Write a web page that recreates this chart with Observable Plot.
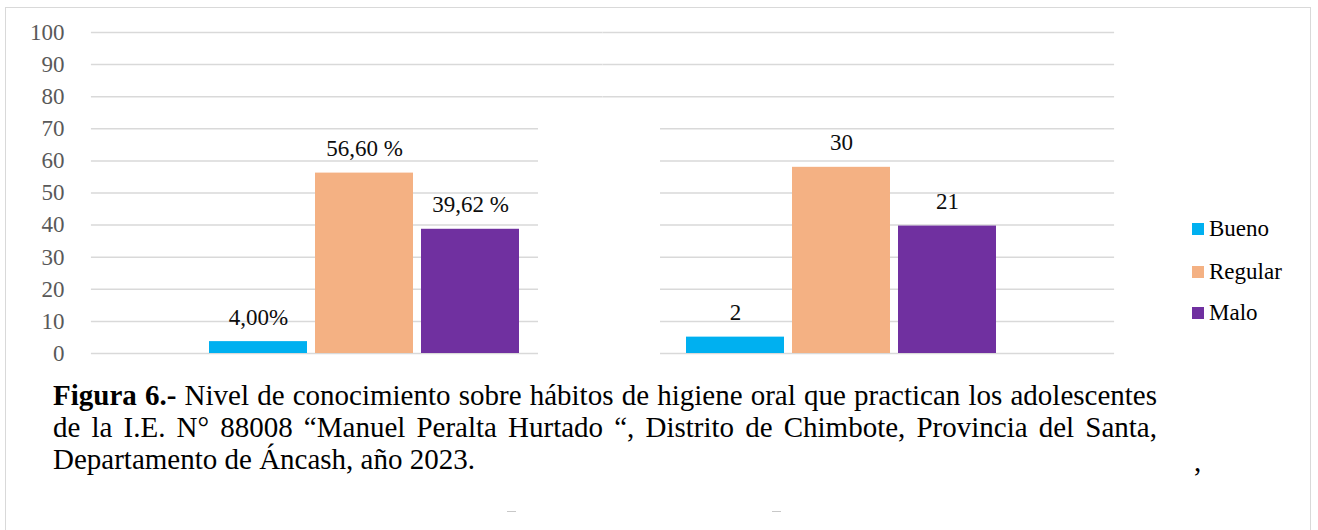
<!DOCTYPE html>
<html><head><meta charset="utf-8">
<script src="https://cdn.jsdelivr.net/npm/d3@7"></script>
<script src="https://cdn.jsdelivr.net/npm/@observablehq/plot@0.6"></script>
<style>
body{margin:0;background:#fff;width:1318px;height:530px;overflow:hidden;position:relative;font-family:"Liberation Serif","Times New Roman",serif;}
#frame{position:absolute;left:5px;top:7px;width:1304px;height:600px;border:1.5px solid #d9d9d9;}
#chart{position:absolute;left:0;top:0;}
#chart svg, #chart svg text{font-family:"Liberation Serif","Times New Roman",serif !important;}
.leg{position:absolute;font-size:23px;line-height:23px;color:#000;white-space:nowrap;}
.sw{position:absolute;width:12px;height:12px;}
.cap{position:absolute;left:53px;width:1104px;font-size:29px;line-height:32px;color:#000;}
.just{text-align:justify;text-align-last:justify;}
.dash{position:absolute;top:511px;width:9px;height:1px;background:#c8c8c8;}
</style></head>
<body>
<div id="frame"></div>
<div id="chart"></div>
<div id="legend"></div>
<div class="cap just" style="top:379px"><b>Figura 6.-</b> Nivel de conocimiento sobre hábitos de higiene oral que practican los adolescentes</div>
<div class="cap just" style="top:411px">de la I.E. N° 88008 “Manuel Peralta Hurtado “, Distrito de Chimbote, Provincia del Santa,</div>
<div class="cap" style="top:443px">Departamento de Áncash, año 2023.</div>
<div class="cap" style="top:445px;left:1194px;width:auto">,</div>
<div class="dash" style="left:507px"></div>
<div class="dash" style="left:772px"></div>
<script>
// ---- data ----
const groups = ["Porcentaje", "Frecuencia"];
const series = ["Bueno", "Regular", "Malo"];
const colors = ["#00b0f0", "#f4b183", "#7030a0"];
const pctValues = [3.7, 56.2, 38.7];
const pctLabels = ["4,00%", "56,60 %", "39,62 %"];
const freqValues = [5.1, 58.0, 39.7];
const freqLabels = ["2", "30", "21"];
const yTicks = [0, 10, 20, 30, 40, 50, 60, 70, 80, 90, 100];

const rows = [];
series.forEach((s, i) => rows.push({group: groups[0], serie: s, value: pctValues[i], label: pctLabels[i]}));
series.forEach((s, i) => rows.push({group: groups[1], serie: s, value: freqValues[i], label: freqLabels[i]}));

// ---- layout ----
const W = 1318, H = 370, ML = 90, MR = 203, MT = 32, MB = 17;
const PI = 0.345, PO = 0.245;
const step = (W - ML - MR) / (2 - PI + 2 * PO);
const outer = step * PO, half = step * PI / 2;

const gridTop = yTicks.filter(t => t >= 80);
const gridLow = yTicks.filter(t => t < 80);
const gridStyle = {stroke: "#d9d9d9", strokeWidth: 1.5};
const g = (arr, grp) => arr.map(t => ({t, group: grp}));

const chart = Plot.plot({
  width: W, height: H,
  marginLeft: ML, marginRight: MR, marginTop: MT, marginBottom: MB,
  style: "font-family: 'Liberation Serif', 'Times New Roman', serif; font-size: 23px; background: transparent; overflow: visible;",
  fx: {domain: groups, paddingInner: PI, paddingOuter: PO, axis: null},
  x: {domain: series, paddingInner: 0.08, paddingOuter: 0, axis: null},
  y: {domain: [0, 100], axis: null},
  color: {domain: series, range: colors},
  marks: [
    Plot.ruleY(g(gridTop, groups[0]), {y: "t", fx: "group", ...gridStyle, insetLeft: -outer, insetRight: -half}),
    Plot.ruleY(g(gridTop, groups[1]), {y: "t", fx: "group", ...gridStyle, insetLeft: -half, insetRight: -outer}),
    Plot.ruleY(g(gridLow, groups[0]), {y: "t", fx: "group", ...gridStyle, insetLeft: -outer, insetRight: -18}),
    Plot.ruleY(g(gridLow, groups[1]), {y: "t", fx: "group", ...gridStyle, insetLeft: -25, insetRight: -outer}),
    Plot.axisY({ticks: yTicks, tickSize: 0, tickPadding: 27 + outer, fill: "#595959", fontSize: "23px", label: null}),
    Plot.barY(rows, {fx: "group", x: "serie", y: "value", fill: "serie"}),
    Plot.text(rows, {fx: "group", x: "serie", y: "value", text: "label", lineAnchor: "bottom", dy: -17, fontSize: "23px", fill: "#0d0d0d"})
  ]
});
document.getElementById("chart").appendChild(chart);

// ---- legend ----
const legCenters = [229, 272, 313];
const leg = d3.select("#legend");
series.forEach((s, i) => {
  leg.append("div").attr("class", "sw")
    .style("left", "1192px").style("top", (legCenters[i] - 6) + "px")
    .style("background", colors[i]);
  leg.append("div").attr("class", "leg")
    .style("left", "1209px").style("top", (legCenters[i] - 11.6) + "px")
    .text(s);
});
</script>
</body></html>
